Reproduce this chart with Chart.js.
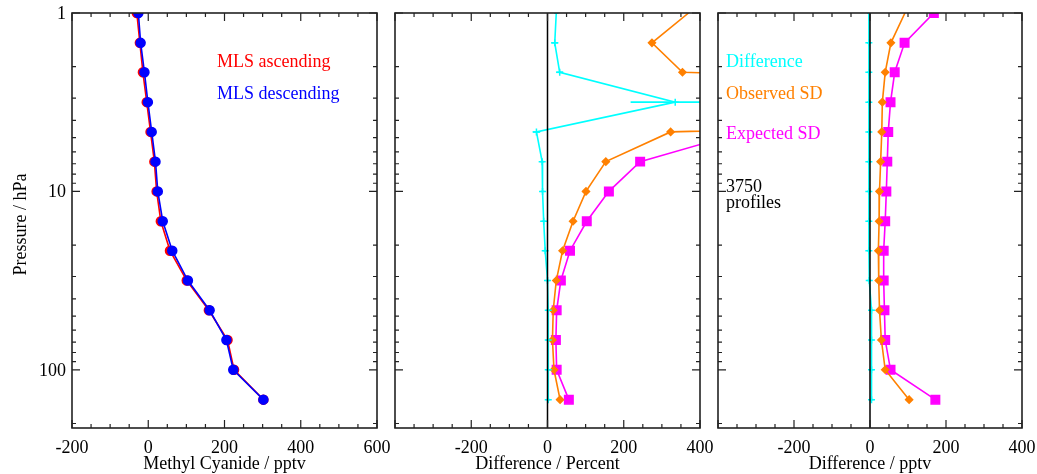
<!DOCTYPE html>
<html>
<head>
<meta charset="utf-8">
<script src="https://cdn.jsdelivr.net/npm/chart.js@4.4.1/dist/chart.umd.min.js"></script>
<style>
  body { margin: 0; background: #fff; }
  #wrap { position: relative; width: 1037px; height: 474px; }
  #wrap canvas { position: absolute; left: 0; top: 0; }
</style>
</head>
<body>
<div id="wrap">
  <canvas id="profile" width="1037" height="474"></canvas>
  <canvas id="percent" width="1037" height="474"></canvas>
  <canvas id="pptv" width="1037" height="474"></canvas>
</div>
<script>
// pressure levels (hPa)
const pressure = [1, 1.47, 2.15, 3.16, 4.64, 6.81, 10, 14.7, 21.5, 31.6, 46.4, 68.1, 100, 147];

// mean profiles, pptv
const ascending = [-30, -22, -14, -4, 6, 16, 22, 33, 57, 101, 159, 208, 225, 302];
const descending = [-26, -20, -10, -1, 9, 19, 25, 38, 63, 104, 161, 205, 223, 302];

// asc - desc, percent
const diffPercent = [23, 19, 32, 335, -29, -14, -13, -10, -6, 0, 2, 2, 2, 2];
const diffPercentErr = [6, 9, 9, 117, 10, 5, 5, 5, 5, 5, 5, 5, 5, 5];
const observedPercent = [370, 274, 354, 3250, 323, 153, 101, 67, 39.5, 23, 15, 13, 17, 33];
const expectedPercent = [646, 455, 619, 5400, 515, 243, 161, 103, 59, 35, 24, 22, 24, 56];

// asc - desc, pptv
const diffPptv = [-3, -3, -3, -3, -3, -3, -3, -3, -3, -2, 4, 4, 4, 4];
const diffPptvErr = [5, 5, 5, 5, 5, 5, 5, 5, 5, 5, 5, 5, 5, 5];
const observedPptv = [92, 55, 40, 32.5, 31, 28, 25, 24, 22, 23, 25, 30, 40, 103];
const expectedPptv = [168, 91, 65, 54, 48, 45.5, 43, 40, 36, 36, 38, 40, 54, 172];

const profileCount = 3750;

const FONT = '18px "Liberation Serif", "Times New Roman", serif';
const TOP = 13;
const BOTTOM = 428;
const W = 1037;
const H = 474;

function points(values) {
    return values.map((v, i) => ({ x: v, y: pressure[i] }));
}

function series(label, values, color, style, radius, extra) {
    return Object.assign({
        label: label,
        data: points(values),
        borderColor: color,
        backgroundColor: color,
        borderWidth: 1.6,
        pointStyle: style,
        pointRadius: radius,
        pointBorderWidth: 1.5,
        showLine: true,
        tension: 0
    }, extra || {});
}

// no symbol on the top level
function hideTop(radius) {
    return pressure.map((p, i) => (i === 0 ? 0 : radius));
}

// frame, inward ticks, labels, zero line and error bars
const axesPlugin = {
    id: 'idlAxes',
    afterDatasetsDraw(chart) {
        const o = chart.options.plugins.idlAxes;
        const ctx = chart.ctx;
        const a = chart.chartArea;
        const xs = chart.scales.x;
        const ys = chart.scales.y;
        ctx.save();

        // error bars on the difference series
        chart.data.datasets.forEach((ds) => {
            if (!ds.errors) return;
            ctx.save();
            ctx.beginPath();
            ctx.rect(a.left, a.top, a.right - a.left, a.bottom - a.top);
            ctx.clip();
            ctx.strokeStyle = ds.borderColor;
            ctx.lineWidth = 1.6;
            ds.data.forEach((p, i) => {
                const y = ys.getPixelForValue(p.y);
                ctx.beginPath();
                ctx.moveTo(xs.getPixelForValue(p.x - ds.errors[i]), y);
                ctx.lineTo(xs.getPixelForValue(p.x + ds.errors[i]), y);
                ctx.stroke();
            });
            ctx.restore();
        });

        if (o.zeroLine) {
            const x0 = xs.getPixelForValue(0);
            ctx.strokeStyle = '#000';
            ctx.lineWidth = 1.5;
            ctx.beginPath();
            ctx.moveTo(x0, a.top);
            ctx.lineTo(x0, a.bottom);
            ctx.stroke();
        }

        ctx.strokeStyle = '#222';
        ctx.lineWidth = 1.6;
        ctx.strokeRect(a.left, a.top, a.right - a.left, a.bottom - a.top);

        // x ticks, top and bottom
        ctx.lineWidth = 1.2;
        for (let v = xs.min; v <= xs.max + 0.01; v += 50) {
            const x = xs.getPixelForValue(v);
            const len = v % 200 === 0 ? 8 : 4;
            ctx.beginPath();
            ctx.moveTo(x, a.bottom);
            ctx.lineTo(x, a.bottom - len);
            ctx.moveTo(x, a.top);
            ctx.lineTo(x, a.top + len);
            ctx.stroke();
        }

        // y ticks, left and right
        [1, 10, 100].forEach((dec) => {
            for (let m = 1; m <= 9; m++) {
                const p = dec * m;
                if (p < ys.min || p > ys.max) continue;
                const y = ys.getPixelForValue(p);
                const len = m === 1 ? 8 : 4;
                ctx.beginPath();
                ctx.moveTo(a.left, y);
                ctx.lineTo(a.left + len, y);
                ctx.moveTo(a.right, y);
                ctx.lineTo(a.right - len, y);
                ctx.stroke();
            }
        });

        ctx.fillStyle = '#000';
        ctx.font = FONT;
        ctx.textAlign = 'center';
        ctx.textBaseline = 'alphabetic';
        const firstLabel = o.skipFirstLabel ? xs.min + 200 : xs.min;
        for (let v = firstLabel; v <= xs.max + 0.01; v += 200) {
            ctx.fillText(String(v), xs.getPixelForValue(v), a.bottom + 25);
        }
        ctx.fillText(o.xTitle, (a.left + a.right) / 2, a.bottom + 41);

        if (o.yLabels) {
            ctx.textAlign = 'right';
            [1, 10, 100].forEach((p) => {
                ctx.fillText(String(p), a.left - 6, ys.getPixelForValue(p) + 6);
            });
            ctx.save();
            ctx.translate(26, (a.top + a.bottom) / 2 + 4);
            ctx.rotate(-Math.PI / 2);
            ctx.textAlign = 'center';
            ctx.fillText('Pressure / hPa', 0, 0);
            ctx.restore();
        }

        ctx.textAlign = 'left';
        (o.notes || []).forEach((n) => {
            ctx.fillStyle = n.color;
            ctx.fillText(n.text, n.x, n.y);
        });
        ctx.restore();
    }
};

function makePanel(id, left, right, xMin, xMax, datasets, opts) {
    return new Chart(document.getElementById(id), {
        type: 'scatter',
        data: { datasets: datasets },
        options: {
            responsive: false,
            animation: false,
            layout: { padding: { left: left, right: W - right, top: TOP, bottom: H - BOTTOM } },
            scales: {
                x: { type: 'linear', min: xMin, max: xMax, display: false },
                y: { type: 'logarithmic', reverse: true, min: 1, max: 212, display: false }
            },
            plugins: {
                legend: { display: false },
                tooltip: { enabled: false },
                idlAxes: opts
            }
        },
        plugins: [axesPlugin]
    });
}

const RED = '#ff0000';
const BLUE = '#0000ff';
const CYAN = '#00ffff';
const ORANGE = '#ff8000';
const MAGENTA = '#ff00ff';

// first dataset is drawn on top
makePanel('profile', 72, 377, -200, 600, [
    series('MLS descending', descending, BLUE, 'circle', 4.5),
    series('MLS ascending', ascending, RED, 'circle', 4.5)
], {
    xTitle: 'Methyl Cyanide / pptv',
    yLabels: true,
    notes: [
        { text: 'MLS ascending', color: RED, x: 217, y: 67 },
        { text: 'MLS descending', color: BLUE, x: 217, y: 99 }
    ]
});

makePanel('percent', 395, 700, -400, 400, [
    series('Difference', diffPercent, CYAN, 'cross', 3.5, { errors: diffPercentErr, pointRadius: hideTop(3.5) }),
    series('Observed SD', observedPercent, ORANGE, 'rectRot', 3.5, { pointRadius: hideTop(3.5) }),
    series('Expected SD', expectedPercent, MAGENTA, 'rect', 6)
], {
    xTitle: 'Difference / Percent',
    zeroLine: true,
    skipFirstLabel: true
});

makePanel('pptv', 718, 1022, -400, 400, [
    series('Difference', diffPptv, CYAN, 'cross', 3.5, { errors: diffPptvErr, pointRadius: hideTop(3.5) }),
    series('Observed SD', observedPptv, ORANGE, 'rectRot', 3.5, { pointRadius: hideTop(3.5) }),
    series('Expected SD', expectedPptv, MAGENTA, 'rect', 6)
], {
    xTitle: 'Difference / pptv',
    zeroLine: true,
    skipFirstLabel: true,
    notes: [
        { text: 'Difference', color: CYAN, x: 726, y: 67 },
        { text: 'Observed SD', color: ORANGE, x: 726, y: 99 },
        { text: 'Expected SD', color: MAGENTA, x: 726, y: 139 },
        { text: String(profileCount), color: '#000', x: 726, y: 192 },
        { text: 'profiles', color: '#000', x: 726, y: 208 }
    ]
});
</script>
</body>
</html>
